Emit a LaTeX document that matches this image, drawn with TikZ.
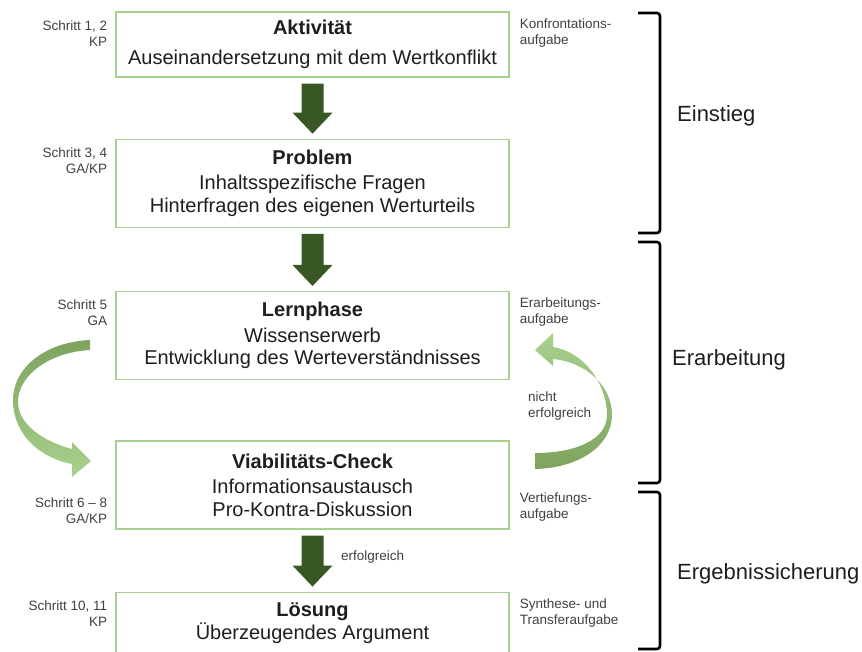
\documentclass[tikz,border=0pt]{standalone}
\usepackage{fontspec}
\setmainfont{Liberation Sans}
\usetikzlibrary{positioning,calc}
\definecolor{darkgreen}{HTML}{385723}
\definecolor{boxgreen}{HTML}{A9D18E}
\definecolor{midgreen}{HTML}{7EA35F}
\definecolor{notegray}{HTML}{404040}
\definecolor{txt}{HTML}{1E1E1E}

% dark block arrow from the bottom of one box to the top of the next
\newcommand{\blockarr}[2]{%
  \fill[darkgreen] ($(#1.south)+(-11,6)$) -- ($(#1.south)+(11,6)$)
    -- ($(#2.north)+(11,-26)$) -- ($(#2.north)+(20,-26)$)
    -- ($(#2.north)+(0,-5)$)
    -- ($(#2.north)+(-20,-26)$) -- ($(#2.north)+(-11,-26)$) -- cycle;}

\begin{document}
\begin{tikzpicture}
    [x=1pt, y=-1pt,
    block/.style={draw=boxgreen, line width=1.3pt, minimum width=393pt, align=center,
        inner sep=0pt, font=\fontsize{20}{22.5}\selectfont, text=txt},
    note/.style={inner sep=0pt, font=\fontsize{13.5}{16}\selectfont, text=notegray},
    tl/.style={note, align=right, anchor=north east, xshift=-8pt, yshift=-9pt},
    bl/.style={note, align=right, anchor=south east, xshift=-8pt, yshift=6pt},
    tr/.style={note, align=left, anchor=north west, xshift=10pt, yshift=-7pt},
    br/.style={note, align=left, anchor=south west, xshift=10pt, yshift=8pt},
    phase/.style={anchor=west, inner sep=0pt, font=\fontsize{22}{26}\selectfont, text=txt},
    bracket/.style={line width=2.6pt, rounded corners=3pt}
    ]
    \useasboundingbox (0,0) rectangle (862,651);

    \node [block, minimum height=65pt,
        label={[tl]north west:{Schritt 1, 2\\KP}},
        label={[tr]north east:{Konfrontations-\\aufgabe}}] (akt) at (312.5,44.5)
    {\textbf{Aktivität}\\[7pt] Auseinandersetzung mit dem Wertkonflikt};

    \node [block, minimum height=88pt, below=61pt of akt,
        label={[tl]north west:{Schritt 3, 4\\GA/KP}}] (prob)
    {\textbf{Problem}\\[3pt] Inhaltsspezifische Fragen\\ Hinterfragen des eigenen Werturteils};

    \node [block, minimum height=88pt, below=63pt of prob,
        label={[tl]north west:{Schritt 5\\GA}},
        label={[tr]north east:{Erarbeitungs-\\aufgabe}}] (lern)
    {\textbf{Lernphase}\\[3pt] Wissenserwerb\\ Entwicklung des Werteverständnisses};

    \node [block, minimum height=88pt, below=60pt of lern,
        label={[bl]south west:{Schritt 6 – 8\\GA/KP}},
        label={[br]south east:{Vertiefungs-\\aufgabe}}] (via)
    {\textbf{Viabilitäts-Check}\\[3pt] Informationsaustausch\\ Pro-Kontra-Diskussion};

    \node [block, minimum height=62pt, below=62pt of via,
        label={[tl]north west:{Schritt 10, 11\\KP}},
        label={[tr]north east:{Synthese- und\\Transferaufgabe}}] (loes)
    {\textbf{Lösung}\\[1pt] Überzeugendes Argument};

    \blockarr{akt}{prob}
    \blockarr{prob}{lern}
    \blockarr{via}{loes}
    \node [note, anchor=west] (ok) at (341,557) {erfolgreich};

    % curved arrows
    \shade[top color=midgreen, bottom color=boxgreen]
        (90,340) .. controls (45,342) and (12,368) .. (13,402)
        .. controls (14,435) and (40,458) .. (72,464)
        -- (72,477) -- (91,461) -- (72,442) -- (72,449)
        .. controls (45,442) and (18,425) .. (18,402)
        .. controls (18,375) and (50,352) .. (90,350) -- cycle;
    \shade[top color=boxgreen, bottom color=midgreen]
        (535,469) .. controls (580,468) and (612,445) .. (612,415)
        .. controls (612,385) and (585,362) .. (553,359)
        -- (553,366) -- (535,350) -- (553,333) -- (553,347)
        .. controls (585,352) and (607,385) .. (607,415)
        .. controls (607,440) and (575,453) .. (535,453) -- cycle;
    \node [note, align=left, anchor=west] (nok) at (528,406) {nicht\\erfolgreich};

    % phases
    \draw[bracket] (638,13) -| (660,233) -- (638,233);
    \draw[bracket] (638,242) -| (660,483) -- (638,483);
    \draw[bracket] (638,492) -| (660,649) -- (638,649);
    \node [phase] (ein) at (677,116) {Einstieg};
    \node [phase] (erar) at (672,360) {Erarbeitung};
    \node [phase] (erg) at (677,574) {Ergebnissicherung};

\end{tikzpicture}
\end{document}
